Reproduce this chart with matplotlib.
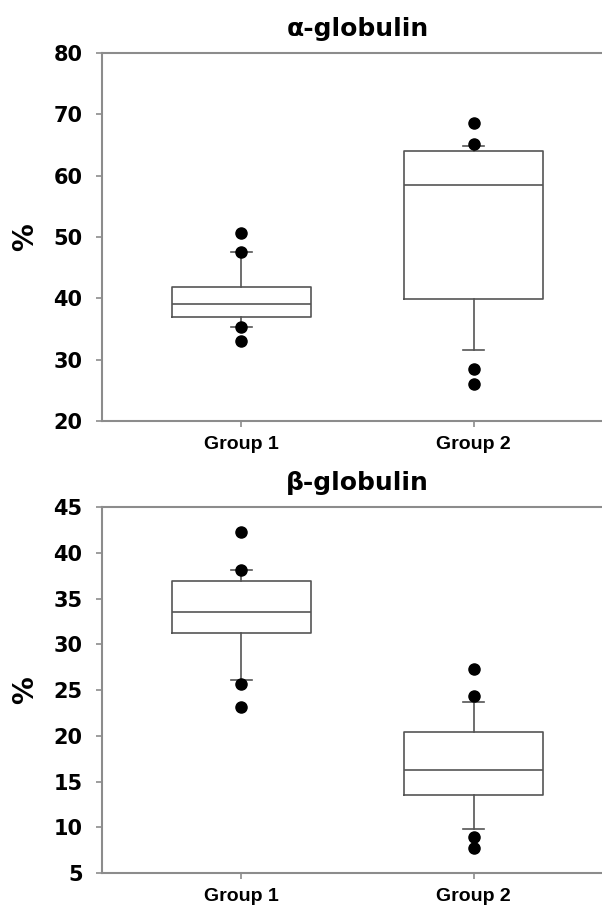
import matplotlib
matplotlib.use('Agg')
import matplotlib.pyplot as plt

groups = ['Group 1', 'Group 2']

# alpha-globulin (%)
alpha_med = [39.1, 58.5]
alpha_q1 = [36.9, 39.9]
alpha_q3 = [41.9, 64.0]
alpha_whislo = [35.4, 31.5]
alpha_whishi = [47.5, 64.9]
alpha_fliers = [[50.7, 47.5, 35.4, 33.0], [68.6, 65.1, 28.5, 26.1]]

# beta-globulin (%)
beta_med = [33.5, 16.3]
beta_q1 = [31.2, 13.5]
beta_q3 = [36.9, 20.4]
beta_whislo = [26.1, 9.8]
beta_whishi = [38.1, 23.7]
beta_fliers = [[42.3, 38.1, 25.7, 23.1], [27.3, 24.4, 8.9, 7.7]]

box_col = '#555555'
spine_col = '#8c8c8c'


def stats(med, q1, q3, lo, hi, fl):
    out = []
    for i in range(len(groups)):
        out.append({'med': med[i], 'q1': q1[i], 'q3': q3[i],
                    'whislo': lo[i], 'whishi': hi[i], 'fliers': fl[i],
                    'label': groups[i]})
    return out


def draw(ax, st, title, ylim, yticks):
    ax.bxp(st, positions=[1, 2], widths=0.6, capwidths=0.09,
           showfliers=True,
           boxprops=dict(color=box_col, linewidth=1.2),
           medianprops=dict(color=box_col, linewidth=1.2),
           whiskerprops=dict(color=box_col, linewidth=1.2),
           capprops=dict(color=box_col, linewidth=1.2),
           flierprops=dict(marker='o', markerfacecolor='black',
                           markeredgecolor='black', markersize=8))
    ax.set_xlim(0.4, 2.6)
    ax.set_ylim(*ylim)
    ax.set_yticks(yticks)
    ax.set_xticks([1, 2])
    ax.set_xticklabels(groups, fontfamily='Liberation Sans',
                       fontweight='bold', fontsize=14)
    for lab in ax.get_yticklabels():
        lab.set_fontweight('bold')
        lab.set_fontsize(15)
    ax.tick_params(axis='both', direction='out', length=4, width=1.2,
                   color=spine_col)
    ax.tick_params(axis='y', pad=10)
    ax.tick_params(axis='x', pad=7)
    for s in ['left', 'top', 'bottom']:
        ax.spines[s].set_color(spine_col)
        ax.spines[s].set_linewidth(1.5)
    ax.spines['right'].set_visible(False)
    ax.set_ylabel('%', fontsize=20, fontweight='bold', labelpad=10)
    ax.set_title(title, fontsize=18, fontweight='bold', pad=12)


fig = plt.figure(figsize=(6.02, 9.09), dpi=100)
ax1 = fig.add_axes([0.1694, 0.5369, 0.849, 0.4048])
ax2 = fig.add_axes([0.1694, 0.0396, 0.849, 0.4026])

draw(ax1, stats(alpha_med, alpha_q1, alpha_q3, alpha_whislo, alpha_whishi, alpha_fliers),
     'α-globulin', (20, 80), range(20, 81, 10))
draw(ax2, stats(beta_med, beta_q1, beta_q3, beta_whislo, beta_whishi, beta_fliers),
     'β-globulin', (5, 45), range(5, 46, 5))

fig.savefig('out.png', dpi=100)
